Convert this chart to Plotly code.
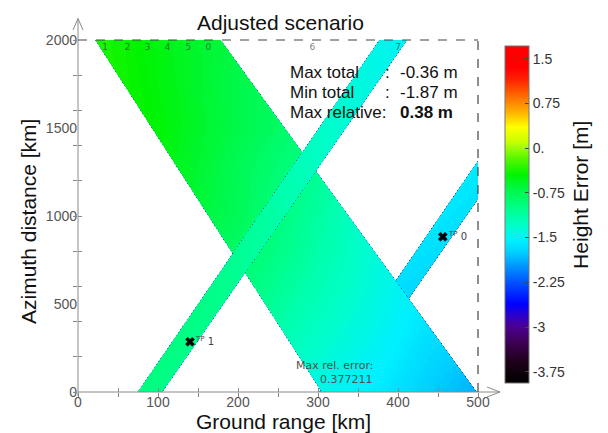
import plotly.graph_objects as go

# ---------------- data ----------------
# swath geometry: ground range [km] of each swath edge at azimuth 0 and 2000 km
band_ids = ["C", "A", "B"]                 # drawing order (bottom -> top)
band_bottom_left_km = [302, 305, 75]
band_bottom_right_km = [332, 498, 105]
band_top_left_km = [604, 22, 377]
band_top_right_km = [638, 178, 411]
azimuth_rows_km = [0, 500, 1000, 1500, 2000]

# height error [m] sampled across each swath (left edge -> right edge), per azimuth row
across_A = [0, 0.25, 0.5, 0.75, 1.0]
height_error_A = [
    [-1.45, -1.55, -1.65, -1.78, -1.87],
    [-1.05, -1.18, -1.30, -1.42, -1.55],
    [-0.68, -0.80, -0.95, -1.10, -1.25],
    [-0.45, -0.55, -0.65, -0.75, -0.85],
    [-0.36, -0.42, -0.50, -0.58, -0.65],
]
across_B = [0, 0.5, 1.0]
height_error_B = [
    [-0.95, -0.97, -1.00],
    [-0.98, -1.00, -1.03],
    [-1.10, -1.13, -1.16],
    [-1.30, -1.33, -1.36],
    [-1.45, -1.48, -1.50],
]
across_C = [0, 0.5, 1.0]
height_error_C = [
    [-1.72, -1.74, -1.76],
    [-1.66, -1.68, -1.70],
    [-1.60, -1.62, -1.64],
    [-1.56, -1.58, -1.60],
    [-1.52, -1.54, -1.56],
]

tie_point_ids = ["1", "0"]
tie_point_x_km = [140, 456]
tie_point_y_km = [285, 882]

swath_label_text = ["1", "2", "3", "4", "5", "0", "6", "7"]
swath_label_x_km = [34, 62, 87, 112, 138, 163, 293, 400]
swath_label_y_km = 1957

stats_labels = ["Max total", "Min total", "Max relative:"]
stats_colons = [":", ":", ""]
stats_values = ["-0.36 m", "-1.87 m", "<b>0.38 m</b>"]
max_rel_error_text = ["Max rel. error:", "0.377211"]

x_label_ticks = [0, 100, 200, 300, 400, 500]
x_tick_marks = list(range(0, 501, 50))
y_label_ticks = [0, 500, 1000, 1500, 2000]
y_tick_marks = list(range(0, 2001, 200))

cb_min, cb_max = -3.94, 1.71
cb_tickvals = [1.5, 0.75, 0, -0.75, -1.5, -2.25, -3, -3.75]
cb_ticktext = ["1.5", "0.75", "0.", "-0.75", "-1.5", "-2.25", "-3", "-3.75"]
colorscale = [
    [0.000, "#000000"], [0.060, "#1c0018"], [0.113, "#3a004c"], [0.166, "#4c0090"],
    [0.193, "#3400c0"], [0.234, "#0000ff"], [0.290, "#0048ff"], [0.343, "#0090ff"],
    [0.388, "#00d0ff"], [0.423, "#00f0ff"], [0.467, "#00ffc8"], [0.520, "#00ff88"],
    [0.573, "#00f848"], [0.618, "#00f400"], [0.671, "#60f800"], [0.715, "#c8ff00"],
    [0.759, "#ffff00"], [0.804, "#ffb000"], [0.848, "#ff7000"], [0.901, "#ff2000"],
    [0.936, "#ff0000"], [1.000, "#ff0000"],
]

FONT = "Liberation Sans, Arial, sans-serif"
X_RANGE = [0, 500]
Y_RANGE = [0, 2000]

fig = go.Figure()

tables = {"A": (across_A, height_error_A), "B": (across_B, height_error_B), "C": (across_C, height_error_C)}
hidden_axis = dict(showgrid=False, showline=False, showticklabels="none", startline=False,
                   endline=False, minorgridcount=0, smoothing=0,
                   gridcolor="rgba(0,0,0,0)", linecolor="rgba(0,0,0,0)")

for i, bid in enumerate(band_ids):
    across, z = tables[bid]
    xs, ys = [], []
    for yv in azimuth_rows_km:
        f = yv / Y_RANGE[1]
        left = band_bottom_left_km[i] + (band_top_left_km[i] - band_bottom_left_km[i]) * f
        right = band_bottom_right_km[i] + (band_top_right_km[i] - band_bottom_right_km[i]) * f
        xs.append([left + s * (right - left) for s in across])
        ys.append([yv for _ in across])
    fig.add_trace(go.Carpet(carpet="band" + bid, a=across, b=azimuth_rows_km, x=xs, y=ys,
                            aaxis=hidden_axis, baxis=hidden_axis, color="rgba(0,0,0,0)"))
    fig.add_trace(go.Contourcarpet(carpet="band" + bid, a=across, b=azimuth_rows_km, z=z,
                                   autocontour=False,
                                   contours=dict(start=cb_min, end=cb_max, size=0.025,
                                                 coloring="fill", showlines=False),
                                   line=dict(width=0), colorscale=colorscale,
                                   zmin=cb_min, zmax=cb_max, showscale=False))

# swath numbers along the top
fig.add_trace(go.Scatter(x=swath_label_x_km, y=[swath_label_y_km] * len(swath_label_x_km),
                         mode="text", text=swath_label_text,
                         textfont=dict(family="DejaVu Sans", size=9, color="rgba(50,50,50,0.65)"),
                         showlegend=False, hoverinfo="skip"))

# tie points
fig.add_trace(go.Scatter(x=tie_point_x_km, y=tie_point_y_km, mode="markers",
                         marker=dict(symbol="x", size=8, color="black",
                                     line=dict(width=0.5, color="black")),
                         showlegend=False))
for tid, tx, ty in zip(tie_point_ids, tie_point_x_km, tie_point_y_km):
    fig.add_annotation(x=tx, y=ty, xref="x", yref="y", text="<sup>TP</sup> " + tid,
                       showarrow=False, xanchor="left", yanchor="middle", xshift=3, yshift=1,
                       font=dict(family="DejaVu Sans", size=10, color="#444"))

# colour bar (continuous)
fig.add_trace(go.Scatter(x=[-1000, -1000], y=[-1000, -1000], mode="markers",
                         marker=dict(color=[cb_min, cb_max], colorscale=colorscale,
                                     cmin=cb_min, cmax=cb_max, size=1, opacity=0,
                                     showscale=True,
                                     colorbar=dict(x=1.0675, xanchor="left", xpad=0,
                                                   y=0.504, yanchor="middle", ypad=0,
                                                   len=0.957, lenmode="fraction",
                                                   thickness=24, thicknessmode="pixels",
                                                   outlinewidth=1, outlinecolor="#777",
                                                   tickmode="array", tickvals=cb_tickvals,
                                                   ticktext=cb_ticktext, ticks="inside",
                                                   ticklen=4, tickcolor="#444",
                                                   tickfont=dict(family=FONT, size=14, color="#333"))),
                         showlegend=False, hoverinfo="skip"))

# invisible traces for tick-mark overlay axes
fig.add_trace(go.Scatter(x=[None], y=[None], xaxis="x2", yaxis="y2", showlegend=False))
fig.add_trace(go.Scatter(x=[None], y=[None], xaxis="x3", yaxis="y3", showlegend=False))

tickfont = dict(family=FONT, size=14, color="#555")
fig.update_layout(
    width=608, height=433, autosize=False,
    margin=dict(l=78, r=130, t=40, b=41),
    paper_bgcolor="white", plot_bgcolor="white",
    showlegend=False,
    xaxis=dict(range=X_RANGE, tickmode="array", tickvals=x_label_ticks, ticks="",
               showgrid=False, zeroline=False, showline=False, tickfont=tickfont, fixedrange=True),
    yaxis=dict(range=Y_RANGE, tickmode="array", tickvals=y_label_ticks, ticks="",
               showgrid=False, zeroline=False, showline=False, tickfont=tickfont, fixedrange=True),
    xaxis2=dict(range=X_RANGE, overlaying="x", anchor="y", side="bottom", tickmode="array",
                tickvals=x_tick_marks, ticks="outside", ticklen=4, tickcolor="#888",
                showticklabels=False, showgrid=False, zeroline=False, showline=False),
    yaxis2=dict(range=Y_RANGE, overlaying="y", anchor="x", side="left", tickmode="array",
                tickvals=y_tick_marks, ticks="outside", ticklen=4, tickcolor="#888",
                showticklabels=False, showgrid=False, zeroline=False, showline=False),
    xaxis3=dict(range=X_RANGE, overlaying="x", anchor="y", side="bottom", tickmode="array",
                tickvals=x_tick_marks, ticks="inside", ticklen=4, tickcolor="#888",
                showticklabels=False, showgrid=False, zeroline=False, showline=False),
    yaxis3=dict(range=Y_RANGE, overlaying="y", anchor="x", side="left", tickmode="array",
                tickvals=y_tick_marks, ticks="inside", ticklen=4, tickcolor="#888",
                showticklabels=False, showgrid=False, zeroline=False, showline=False),
)

axis_line = dict(color="#8a8a8a", width=1)
border = dict(color="#444", width=1.2, dash="dash")
fig.add_shape(type="line", xref="paper", yref="paper", x0=0, y0=0, x1=1.055, y1=0, line=axis_line)
fig.add_shape(type="line", xref="paper", yref="paper", x0=0, y0=-0.012, x1=0, y1=1.061, line=axis_line)
fig.add_shape(type="path", xref="paper", yref="paper",
              path="M 1.0225,0.0142 L 1.055,0 L 1.0225,-0.0142", line=axis_line)
fig.add_shape(type="path", xref="paper", yref="paper",
              path="M -0.0125,1.0284 L 0,1.061 L 0.0125,1.0284", line=axis_line)
fig.add_shape(type="line", xref="paper", yref="paper", x0=0, y0=1, x1=1, y1=1, line=border)
fig.add_shape(type="line", xref="paper", yref="paper", x0=1, y0=0, x1=1, y1=1, line=border)

# titles
fig.add_annotation(text="Adjusted scenario", xref="paper", yref="paper", x=0.505, y=1.051,
                   showarrow=False, xanchor="center", yanchor="middle",
                   font=dict(family=FONT, size=21, color="#111"))
fig.add_annotation(text="Ground range [km]", xref="paper", yref="paper", x=0.5125, y=-0.083,
                   showarrow=False, xanchor="center", yanchor="middle",
                   font=dict(family=FONT, size=21, color="#111"))
fig.add_annotation(text="Azimuth distance [km]", xref="paper", yref="paper", x=-0.1225, y=0.483,
                   showarrow=False, xanchor="center", yanchor="middle", textangle=-90,
                   font=dict(family=FONT, size=21, color="#111"))
fig.add_annotation(text="Height Error [m]", xref="paper", yref="paper", x=1.2575, y=0.56,
                   showarrow=False, xanchor="center", yanchor="middle", textangle=-90,
                   font=dict(family=FONT, size=21, color="#111"))

# statistics box
stat_y = [0.9075, 0.8506, 0.7937]
for lab, col, val, yy in zip(stats_labels, stats_colons, stats_values, stat_y):
    sfont = dict(family=FONT, size=17, color="#111")
    fig.add_annotation(text=lab, xref="paper", yref="paper", x=0.525, y=yy, showarrow=False,
                       xanchor="left", yanchor="middle", font=sfont)
    if col:
        fig.add_annotation(text=col, xref="paper", yref="paper", x=0.7725, y=yy, showarrow=False,
                           xanchor="center", yanchor="middle", font=sfont)
    fig.add_annotation(text=val, xref="paper", yref="paper", x=0.80, y=yy, showarrow=False,
                       xanchor="left", yanchor="middle", font=sfont)

for txt, yy in zip(max_rel_error_text, [0.0767, 0.0369]):
    fig.add_annotation(text=txt, xref="paper", yref="paper", x=0.7425, y=yy, showarrow=False,
                       xanchor="right", yanchor="middle",
                       font=dict(family="DejaVu Sans", size=11, color="#505050"))

fig.write_html("out.html", config={"displayModeBar": False},
               post_script="document.body.style.margin='0';")
